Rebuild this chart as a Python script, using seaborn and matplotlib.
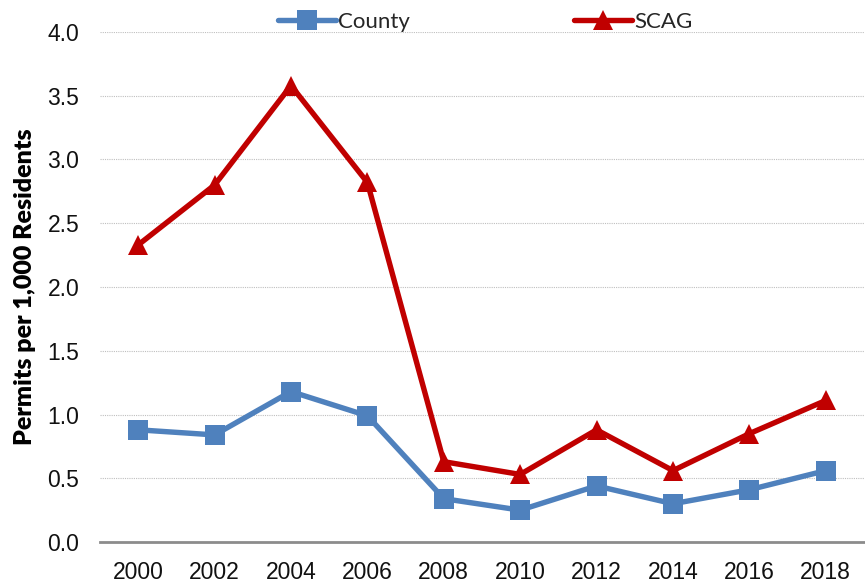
import matplotlib
matplotlib.use("Agg")
import matplotlib.pyplot as plt
import seaborn as sns
import pandas as pd

years = [2000, 2002, 2004, 2006, 2008, 2010, 2012, 2014, 2016, 2018]
county = [0.88, 0.84, 1.18, 0.99, 0.34, 0.25, 0.44, 0.30, 0.41, 0.56]
scag = [2.33, 2.80, 3.58, 2.82, 0.63, 0.53, 0.88, 0.56, 0.85, 1.11]
series_names = ["County", "SCAG"]
y_ticks = [0.0, 0.5, 1.0, 1.5, 2.0, 2.5, 3.0, 3.5, 4.0]

df = pd.DataFrame({
    "Year": years * 2,
    "Value": county + scag,
    "Series": [series_names[0]] * len(years) + [series_names[1]] * len(years),
})

sns.set_theme(style="white")
plt.rcParams['font.family'] = ['Liberation Sans', 'DejaVu Sans']

fig = plt.figure(figsize=(8.65, 5.88), dpi=100)
ax = fig.add_axes([0.1156, 0.0782, 0.8832, 0.8674])

palette = {"County": "#4F81BD", "SCAG": "#C00000"}
markers = {"County": "s", "SCAG": "^"}
sns.lineplot(data=df, x="Year", y="Value", hue="Series", style="Series",
             palette=palette, markers=markers, dashes=False, linewidth=3.9,
             markersize=14, markeredgewidth=0, ax=ax, legend=True)

tick_font = {"family": ["Liberation Sans", "DejaVu Sans"], "size": 16.5, "color": "#111111"}
ax.set_xlim(1999, 2019)
ax.set_ylim(0, 4.0)
ax.set_xticks(years)
ax.set_xticklabels([str(y) for y in years], fontdict=tick_font)
ax.set_yticks(y_ticks)
ax.set_yticklabels([f"{v:.1f}" for v in y_ticks], fontdict=tick_font)
ax.tick_params(axis='x', length=0, pad=14)
ax.tick_params(axis='y', length=0, pad=15)
ax.yaxis.grid(True, linestyle=(0, (1, 1)), color="#BFBFBF", linewidth=0.8)
ax.set_axisbelow(True)
for s in ["top", "right", "left"]:
    ax.spines[s].set_visible(False)
ax.spines["bottom"].set_color("#8C8C8C")
ax.spines["bottom"].set_linewidth(2)
ax.set_xlabel("")
ax.set_ylabel("Permits per 1,000 Residents", fontsize=18, fontweight="heavy",
              family=["Lato", "DejaVu Sans"], color="#000000", labelpad=8)

handles, labels = ax.get_legend_handles_labels()
ax.legend(handles, labels, loc="center", bbox_to_anchor=(0.561, 0.963),
          bbox_transform=fig.transFigure, ncol=2, frameon=False,
          prop={"family": ["Lato", "DejaVu Sans"], "size": 16},
          handlelength=2.6, handletextpad=0.1, columnspacing=7.4, markerscale=1.0)

fig.savefig("out.png", dpi=100)
